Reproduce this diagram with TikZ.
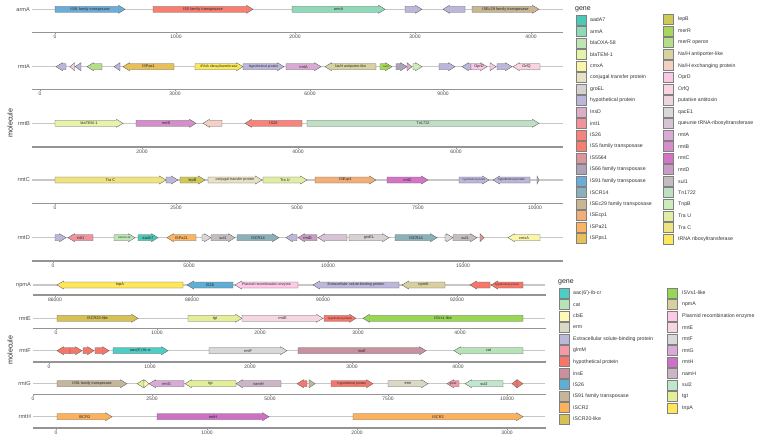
\documentclass[tikz,border=0pt]{standalone}
\usepackage{fontspec}
\setmainfont{Liberation Sans}
% gene colours, upper panel
\definecolor{gAadA}{HTML}{4CC9B6}
\definecolor{gArmA}{HTML}{8DD9B8}
\definecolor{gOXA}{HTML}{BFE5B4}
\definecolor{gTEM}{HTML}{E6F4AA}
\definecolor{gCmxA}{HTML}{FAF5A9}
\definecolor{gConj}{HTML}{E9E1C4}
\definecolor{gGroEL}{HTML}{D5D2D1}
\definecolor{gHyp}{HTML}{BCB6DB}
\definecolor{gInsD}{HTML}{DBAEC5}
\definecolor{gIntI}{HTML}{F0939D}
\definecolor{gIStwosix}{HTML}{F9837A}
\definecolor{gISfive}{HTML}{F87F70}
\definecolor{gISfivefive}{HTML}{DF969B}
\definecolor{gISsixsix}{HTML}{ACA3B9}
\definecolor{gISnineone}{HTML}{6BACD8}
\definecolor{gISCRfourteen}{HTML}{8AB0BA}
\definecolor{gISEctwonine}{HTML}{C9B693}
\definecolor{gISEcp}{HTML}{F3AE78}
\definecolor{gISPa}{HTML}{FCB463}
\definecolor{gISPps}{HTML}{E7C05A}
\definecolor{gLepB}{HTML}{CFCA56}
\definecolor{gMerR}{HTML}{A8D85B}
\definecolor{gMerROp}{HTML}{B8DD8A}
\definecolor{gNaHa}{HTML}{D8D2A0}
\definecolor{gNaHe}{HTML}{F3CFC4}
\definecolor{gOprD}{HTML}{FBC8E4}
\definecolor{gOrfQ}{HTML}{F9D5E1}
\definecolor{gAntitox}{HTML}{EFD3DE}
\definecolor{gQac}{HTML}{DAD7D9}
\definecolor{gQueu}{HTML}{D7C3D4}
\definecolor{gRmtA}{HTML}{D9AAD4}
\definecolor{gRmtB}{HTML}{D58ECB}
\definecolor{gRmtC}{HTML}{D574C7}
\definecolor{gRmtD}{HTML}{C99CC4}
\definecolor{gSulI}{HTML}{C5BCC1}
\definecolor{gTn}{HTML}{BFDFC5}
\definecolor{gTnpB}{HTML}{CCEDBA}
\definecolor{gTraU}{HTML}{E1EDA3}
\definecolor{gTraC}{HTML}{EFE37F}
\definecolor{gTRNA}{HTML}{FCE95B}
% gene colours, lower panel
\definecolor{hAac}{HTML}{4ECDC4}
\definecolor{hCat}{HTML}{B6E4B8}
\definecolor{hCbiE}{HTML}{FFFAB3}
\definecolor{hErm}{HTML}{DBD8C3}
\definecolor{hExtra}{HTML}{BCB8DC}
\definecolor{hGlmM}{HTML}{F49AA7}
\definecolor{hHyp}{HTML}{F6776A}
\definecolor{hInsE}{HTML}{C9919F}
\definecolor{hIStwosix}{HTML}{60AED4}
\definecolor{hISnineone}{HTML}{C5B59B}
\definecolor{hISCRtwo}{HTML}{FDB15B}
\definecolor{hISCRtwenty}{HTML}{D8C154}
\definecolor{hISVs}{HTML}{98D753}
\definecolor{hNpmA}{HTML}{D8CF9F}
\definecolor{hPlasmid}{HTML}{FDC9E6}
\definecolor{hRmtE}{HTML}{F6D6E2}
\definecolor{hRmtF}{HTML}{D8D8D8}
\definecolor{hRmtG}{HTML}{D8AAD5}
\definecolor{hRmtH}{HTML}{CE70C6}
\definecolor{hNamH}{HTML}{CDB5C8}
\definecolor{hSulII}{HTML}{BFE7CB}
\definecolor{hTgt}{HTML}{E3EE97}
\definecolor{hTnpA}{HTML}{FFE75B}

\tikzset{
  trackline/.style={draw=black!22, line width=1.4pt},
  axisline/.style={draw=black!42, line width=1.6pt},
  genebox/.style={draw=black!62, line width=0.35pt, line join=miter},
  genelabel/.style={font=\fontsize{3.9}{4}\selectfont, inner sep=0pt, text=black!85},
  tracklab/.style={font=\fontsize{5.6}{6}\selectfont, text=black!72, anchor=east, inner sep=0pt},
  ticklab/.style={font=\fontsize{5}{6}\selectfont, text=black!72, anchor=north, inner sep=0pt},
  legkey/.style={draw=black!50, line width=0.6pt},
  leglab/.style={font=\fontsize{5.2}{6}\selectfont, text=black!80, anchor=west, inner sep=0pt},
  legtitle/.style={font=\fontsize{7}{8}\selectfont, text=black!85, anchor=west, inner sep=0pt},
  moltitle/.style={font=\fontsize{7.2}{8}\selectfont, text=black!85, rotate=90, inner sep=0pt},
}

% #1 row y, #2 start, #3 tip, #4 colour, #5 label
\newcommand{\genearrow}[5]{%
  \pgfmathsetmacro{\gl}{abs(#3-#2)}%
  \pgfmathsetmacro{\gh}{min(6.5,\gl)}%
  \pgfmathsetmacro{\gs}{(#3>#2) ? 1 : -1}%
  \pgfmathsetmacro{\gb}{#3-\gs*\gh}%
  \draw[genebox, fill=#4] (#2,#1-3) -- (\gb,#1-3) -- (\gb,#1-4) -- (#3,#1)
    -- (\gb,#1+4) -- (\gb,#1+3) -- (#2,#1+3) -- cycle;
  \node[genelabel] at ({(#2+#3)/2},#1) {#5};
}
% #1 row y, #2 name, #3 x start, #4 x end
\newcommand{\molrow}[4]{%
  \draw[trackline] (#3,#1) -- (#4,#1);
  \node[tracklab] at (#3-2,#1) {#2};
}
% #1 axis y, #2 x start, #3 x end, #4 ticks x/label
\newcommand{\bpaxis}[4]{%
  \draw[axisline] (#2,#1) -- (#3,#1);
  \foreach \tx/\tl in {#4} {
    \draw[black!42, line width=0.5pt] (\tx,#1) -- (\tx,#1+2);
    \node[ticklab] at (\tx,#1+3) {\tl};
  }
}
\newcommand{\sz}[1]{\fontsize{#1}{#1}\selectfont}

\begin{document}
\begin{tikzpicture}[x=1pt, y=-1pt]
\useasboundingbox (0,0) rectangle (767,439);

% upper panel
\node[moltitle] at (10,123) {molecule};

\molrow{9.3}{armA}{32}{563}
\genearrow{9.3}{55}{125}{gISnineone}{\sz{3.7}IS91 family transposase}
\genearrow{9.3}{153}{253}{gISfive}{IS5 family transposase}
\genearrow{9.3}{292}{385}{gArmA}{armA}
\genearrow{9.3}{405}{422}{gHyp}{}
\genearrow{9.3}{465}{443}{gHyp}{}
\genearrow{9.3}{472}{539}{gISEctwonine}{ISEc29 family transposase}
\bpaxis{32.3}{32}{563}{55/0,176/1000,295/2000,415/3000,531/4000}

\molrow{66.7}{rmtA}{32}{563}
\genearrow{66.7}{66}{56}{gHyp}{}
\genearrow{66.7}{74.5}{70}{gAntitox}{}
\genearrow{66.7}{81}{75}{gHyp}{}
\genearrow{66.7}{102}{87}{gMerROp}{}
\genearrow{66.7}{120}{114}{gHyp}{}
\genearrow{66.7}{174}{123}{gISPps}{ISPps1}
\genearrow{66.7}{195}{243}{gTRNA}{\sz{3.5}tRNA ribosyltransferase}
\genearrow{66.7}{243}{284}{gHyp}{\sz{3.4}hypothetical protein}
\genearrow{66.7}{286}{321}{gRmtA}{rmtA}
\genearrow{66.7}{376}{325}{gNaHa}{\sz{3.6}Na/H antiporter-like}
\genearrow{66.7}{380}{392}{gMerR}{\sz{2.4}merR}
\genearrow{66.7}{396}{407}{gISsixsix}{}
\genearrow{66.7}{407}{412}{gInsD}{}
\genearrow{66.7}{413}{422}{gTnpB}{}
\genearrow{66.7}{439}{455}{gHyp}{}
\genearrow{66.7}{471}{462}{gHyp}{}
\genearrow{66.7}{471}{487}{gOprD}{OprD}
\genearrow{66.7}{490}{496}{gOprD}{}
\genearrow{66.7}{497}{512}{gHyp}{}
\genearrow{66.7}{540}{513}{gOrfQ}{OrfQ}
\bpaxis{89.3}{32}{563}{40/0,175/3000,310/6000,443/9000}

\molrow{123.3}{rmtB}{32}{563}
\genearrow{123.3}{55}{123}{gTEM}{blaTEM-1}
\genearrow{123.3}{136}{196}{gRmtB}{rmtB}
\genearrow{123.3}{222}{203}{gNaHe}{}
\genearrow{123.3}{302}{245}{gIStwosix}{IS26}
\genearrow{123.3}{307}{539}{gTn}{Tn1722}
\bpaxis{146.7}{32}{563}{142/2000,298/4000,456/6000}

\molrow{180}{rmtC}{32}{563}
\genearrow{180}{55}{166}{gTraC}{Tra C}
\genearrow{180}{166}{178}{gHyp}{}
\genearrow{180}{180}{205}{gLepB}{lepB}
\genearrow{180}{208}{262}{gConj}{\sz{3.6}conjugal transfer protein}
\genearrow{180}{263}{307}{gTraU}{Tra U}
\genearrow{180}{315}{376}{gISEcp}{ISEcp1}
\genearrow{180}{387}{428}{gRmtC}{rmtC}
\genearrow{180}{459}{489}{gHyp}{\sz{2.6}hypothetical protein}
\genearrow{180}{530}{493}{gHyp}{\sz{3.1}hypothetical protein}
\genearrow{180}{537}{539}{gHyp}{}
\bpaxis{203.3}{32}{563}{55/0,176/2500,297/5000,418/7500,535/10000}

\molrow{237.7}{rmtD}{32}{563}
\genearrow{237.7}{55}{66}{gHyp}{}
\genearrow{237.7}{93}{68}{gIntI}{intI1}
\genearrow{237.7}{114}{135}{gOXA}{\sz{2.5}blaOXA-58}
\genearrow{237.7}{138}{158}{gAadA}{aadA7}
\genearrow{237.7}{196}{167}{gISPa}{ISPa21}
\genearrow{237.7}{202}{211}{gQac}{}
\genearrow{237.7}{211}{235}{gSulI}{sul1}
\genearrow{237.7}{237}{279}{gISCRfourteen}{ISCR14}
\genearrow{237.7}{297}{286}{gHyp}{}
\genearrow{237.7}{317}{298}{gRmtD}{rmtD}
\genearrow{237.7}{347}{318}{gQueu}{}
\genearrow{237.7}{349}{389}{gGroEL}{groEL}
\genearrow{237.7}{395}{437}{gISCRfourteen}{ISCR14}
\genearrow{237.7}{445}{453}{gQac}{}
\genearrow{237.7}{453}{477}{gSulI}{sul1}
\genearrow{237.7}{480}{484}{gISfivefive}{}
\genearrow{237.7}{540}{508}{gCmxA}{cmxA}
\bpaxis{261}{32}{563}{53/0,189/5000,328/10000,463/15000}

% upper legend
\node[legtitle] at (575,9) {gene};
\foreach \lab/\col [count=\i from 0] in {aadA7/gAadA, armA/gArmA, blaOXA-58/gOXA,
    blaTEM-1/gTEM, cmxA/gCmxA, conjugal transfer protein/gConj, groEL/gGroEL,
    hypothetical protein/gHyp, InsD/gInsD, intI1/gIntI, IS26/gIStwosix,
    IS5 family transposase/gISfive, IS5564/gISfivefive, IS66 family transposase/gISsixsix,
    IS91 family transposase/gISnineone, ISCR14/gISCRfourteen,
    ISEc29 family transposase/gISEctwonine, ISEcp1/gISEcp, ISPa21/gISPa, ISPps1/gISPps} {
  \draw[legkey, fill=\col] (576,{20+11.5*\i-5}) rectangle ++(10,10);
  \node[leglab] at (590,{20+11.5*\i}) {\lab};
}
\foreach \lab/\col [count=\i from 0] in {lepB/gLepB, merR/gMerR, merR operon/gMerROp,
    {Na/H antiporter-like}/gNaHa, {Na/H exchanging protein}/gNaHe, OprD/gOprD, OrfQ/gOrfQ,
    putative antitoxin/gAntitox, qacE1/gQac, queunie tRNA-ribosyltransferase/gQueu,
    rmtA/gRmtA, rmtB/gRmtB, rmtC/gRmtC, rmtD/gRmtD, sul1/gSulI, Tn1722/gTn, TnpB/gTnpB,
    Tra U/gTraU, Tra C/gTraC, tRNA ribosyltransferase/gTRNA} {
  \draw[legkey, fill=\col] (663,{19.5+11.55*\i-5}) rectangle ++(10,10);
  \node[leglab] at (678,{19.5+11.55*\i}) {\lab};
}

% lower panel
\node[moltitle] at (10,350) {molecule};

\molrow{285}{npmA}{33}{545}
\genearrow{285}{183}{57}{hTnpA}{tnpA}
\genearrow{285}{233}{187}{hIStwosix}{IS26}
\genearrow{285}{298}{235}{hPlasmid}{\sz{3.5}Plasmid recombination enzyme}
\genearrow{285}{399}{313}{hExtra}{\sz{3.7}Extracellular solute-binding protein}
\genearrow{285}{445}{402}{hNpmA}{npmA}
\genearrow{285}{490}{470}{hHyp}{}
\genearrow{285}{523}{491}{hHyp}{\sz{2.8}hypothetical protein}
\bpaxis{295}{33}{546}{55/86000,192/88000,323/90000,457/92000}

\molrow{318.3}{rmtE}{33}{545}
\genearrow{318.3}{57}{138}{hISCRtwenty}{ISCR20-like}
\genearrow{318.3}{188}{242}{hTgt}{tgt}
\genearrow{318.3}{242}{323}{hRmtE}{rmtE}
\genearrow{318.3}{324}{356}{hHyp}{\sz{2.8}hypothetical protein}
\genearrow{318.3}{523}{363}{hISVs}{ISVs1-like}
\bpaxis{328.3}{33}{546}{56/0,157/1000,260/2000,358/3000,460/4000}

\molrow{350.7}{rmtF}{33}{545}
\genearrow{350.7}{70}{57}{hHyp}{}
\genearrow{350.7}{70}{82}{hHyp}{}
\genearrow{350.7}{83}{94}{hHyp}{}
\genearrow{350.7}{95}{109}{hHyp}{}
\genearrow{350.7}{113}{168}{hAac}{aac(6')-Ib-cr}
\genearrow{350.7}{209}{287}{hRmtF}{rmtF}
\genearrow{350.7}{298}{426}{hInsE}{insE}
\genearrow{350.7}{523}{454}{hCat}{cat}
\bpaxis{361.7}{33}{546}{49/0,150/1000,250/2000,352/3000,458/4000}

\molrow{383.7}{rmtG}{33}{545}
\genearrow{383.7}{57}{127}{hISnineone}{\sz{3.7}IS91 family transposase}
\genearrow{383.7}{144}{137}{hTgt}{}
\genearrow{383.7}{144}{149}{hCbiE}{}
\genearrow{383.7}{184}{149}{hRmtG}{rmtG}
\genearrow{383.7}{236}{185}{hTgt}{tgt}
\genearrow{383.7}{281}{236}{hNamH}{namH}
\genearrow{383.7}{307}{297}{hHyp}{}
\genearrow{383.7}{309}{315}{hISnineone}{}
\genearrow{383.7}{331}{373}{hHyp}{\sz{3.3}hypothetical protein}
\genearrow{383.7}{388}{428}{hErm}{erm}
\genearrow{383.7}{459}{447}{hGlmM}{\sz{2.8}glmM}
\genearrow{383.7}{503}{465}{hSulII}{sul2}
\genearrow{383.7}{517}{512}{hHyp}{}
\genearrow{383.7}{517}{523}{hHyp}{}
\bpaxis{394.3}{33}{546}{33/0,152/2500,270/5000,388/7500,507/10000}

\molrow{416.7}{rmtH}{33}{545}
\genearrow{416.7}{57}{112}{hISCRtwo}{ISCR2}
\genearrow{416.7}{157}{269}{hRmtH}{rmtH}
\genearrow{416.7}{353}{523}{hISCRtwo}{ISCR2}
\bpaxis{427.7}{33}{546}{56/0,207/1000,357/2000,507/3000}

% lower legend
\node[legtitle] at (558,282) {gene};
\foreach \lab/\col [count=\i from 0] in {aac(6')-Ib-cr/hAac, cat/hCat, cbiE/hCbiE, erm/hErm,
    Extracellular solute-binding protein/hExtra, glmM/hGlmM, hypothetical protein/hHyp,
    insE/hInsE, IS26/hIStwosix, IS91 family transposase/hISnineone, ISCR2/hISCRtwo,
    ISCR20-like/hISCRtwenty} {
  \draw[legkey, fill=\col] (559,{293+11.45*\i-5}) rectangle ++(10,10);
  \node[leglab] at (573,{293+11.45*\i}) {\lab};
}
\foreach \lab/\col [count=\i from 0] in {ISVs1-like/hISVs, npmA/hNpmA,
    Plasmid recombination enzyme/hPlasmid, rmtE/hRmtE, rmtF/hRmtF, rmtG/hRmtG,
    rmtH/hRmtH, namH/hNamH, sul2/hSulII, tgt/hTgt, tnpA/hTnpA} {
  \draw[legkey, fill=\col] (667,{293+11.5*\i-5}) rectangle ++(10,10);
  \node[leglab] at (682,{293+11.5*\i}) {\lab};
}
\end{tikzpicture}
\end{document}
